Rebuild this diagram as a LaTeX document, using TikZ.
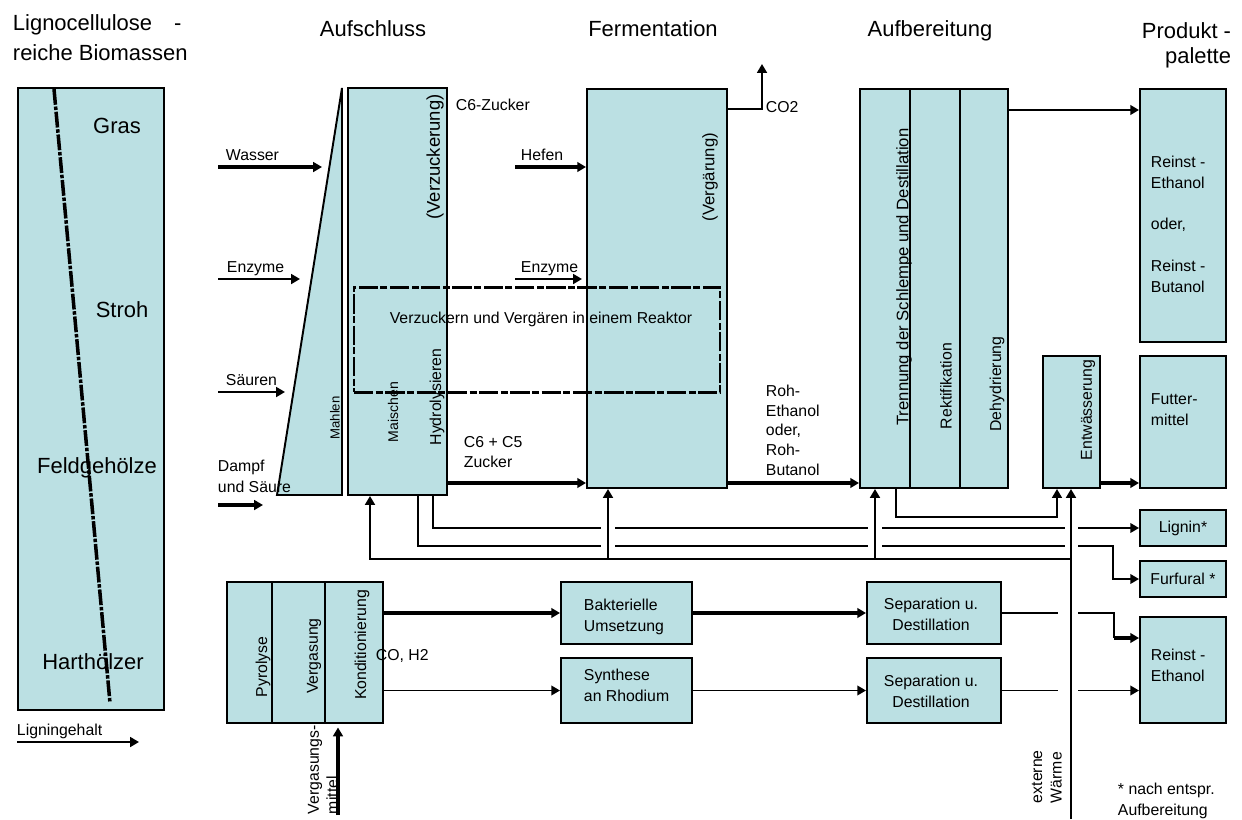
\documentclass[tikz,border=0pt]{standalone}
\usepackage{fontspec}
\setmainfont{Liberation Sans}
\usetikzlibrary{arrows.meta,positioning,fit,calc}
\definecolor{cyanbox}{RGB}{187,224,227}
\tikzset{blk/.style={draw, fill=cyanbox, line width=1.1pt, inner sep=0pt}}
\tikzset{hdg/.style={font=\fontsize{12.5}{17}\selectfont, inner sep=0pt}}
\tikzset{lbl/.style={inner sep=0pt}}
\tikzset{thk/.style={line width=2.2pt}, med/.style={line width=1.6pt}}

\begin{document}
\begin{tikzpicture}[>={Triangle[length=5pt,width=5.5pt]}, x=0.02cm, y=-0.02cm, line width=1.1pt, font=\fontsize{9}{11.8}\selectfont]
\useasboundingbox (0,0) rectangle (1242,819);

% headings
\node[hdg, anchor=north west, align=left] (H0) at (12,14) {Lignocellulose\quad-\\reiche Biomassen};
\node[hdg, anchor=base] (H1) at (373,36) {Aufschluss};
\node[hdg, anchor=base] (H2) at (653,36) {Fermentation};
\node[hdg, anchor=base] (H3) at (930,36) {Aufbereitung};
\node[hdg, anchor=north east, align=right, font=\fontsize{12.5}{14}\selectfont] (H4) at (1232,22) {Produkt -\\palette};

% boxes
\node[blk, fit={(18,88) (164,710)}] (Bio) {};
\draw[blk] (342,88) -- (277,495) -- (342,495) -- cycle;
\node[blk, fit={(348,88) (447,495)}] (Auf) {};
\node[blk, fit={(587,89) (727,488)}] (Fer) {};
\node[blk, fit={(860,89) (910,488)}] (Tr) {};
\node[blk, fit={(910,89) (960,488)}] (Rk) {};
\node[blk, fit={(960,89) (1008,488)}] (Dh) {};
\node[blk, fit={(1140,89) (1226,342)}] (P1) {};
\node[blk, fit={(1043,356) (1100,488)}] (Ew) {};
\node[blk, fit={(1140,356) (1226,488)}] (Fu) {};
\node[blk, fit={(1140,510) (1226,546)}] (Lg) {};
\node[blk, fit={(1140,561) (1226,597)}] (Ff) {};
\node[blk, fit={(1140,617) (1226,723)}] (P2) {};
\node[blk, fit={(227,582) (272,723)}] (Py) {};
\node[blk, fit={(272,582) (325,723)}] (Vg) {};
\node[blk, fit={(325,582) (383,723)}] (Kd) {};
\node[blk, fit={(561,582) (692,644)}] (Bk) {};
\node[blk, fit={(561,658) (692,723)}] (Sy) {};
\node[blk, fit={(867,582) (1001,644)}] (Sp1) {};
\node[blk, fit={(867,658) (1001,723)}] (Sp2) {};

\draw[line width=2pt, dash pattern=on 9pt off 1pt on 2pt off 1pt] (54,89) -- (110,703);
\node[draw, line width=1.7pt, dash pattern=on 11pt off 1.4pt on 4pt off 1.4pt, inner sep=0pt, fit={(354,287) (720,392)}] (Rea) {};

% biomass
\node[hdg, anchor=base] at (117,133) {Gras};
\node[hdg, anchor=base] at (122,317) {Stroh};
\node[hdg, anchor=base] at (97,473) {Feldgehölze};
\node[hdg, anchor=base] at (93,669) {Harthölzer};
\node[lbl, anchor=base west] at (16,735) {Ligningehalt};
\coordinate (lg0) at (17,742);
\draw[med,->] (lg0) -- ++(122,0);

% vertical labels
\node[lbl, rotate=90, font=\fontsize{7.5}{9}\selectfont] at (335,418) {Mahlen};
\node[lbl, rotate=90, font=\fontsize{8}{10}\selectfont] at (393,412) {Maischen};
\node[lbl, rotate=90] at (437,397) {Hydrolysieren};
\node[lbl, rotate=90, font=\fontsize{10.5}{13}\selectfont] at (435,157) {(Verzuckerung)};
\node[lbl, rotate=90, font=\fontsize{9.5}{11}\selectfont] at (710,177) {(Vergärung)};
\node[lbl, rotate=90, font=\fontsize{9.5}{11}\selectfont] at (904,277) {Trennung der Schlempe und Destillation};
\node[lbl, rotate=90] at (946,386) {Rektifikation};
\node[lbl, rotate=90] at (997,384) {Dehydrierung};
\node[lbl, rotate=90] at (1088,410) {Entwässerung};
\node[lbl, rotate=90] at (263,667) {Pyrolyse};
\node[lbl, rotate=90] at (314,656) {Vergasung};
\node[lbl, rotate=90] at (362,645) {Konditionierung};
\node[lbl, rotate=90, anchor=north west, align=left, font=\fontsize{9}{10.8}\selectfont] at (307,815) {Vergasungs-\\mittel};
\node[lbl, rotate=90, anchor=north west, align=left, font=\fontsize{9}{11}\selectfont] at (1031,804) {externe\\Wärme};

% labels
\node[lbl, anchor=base west] at (225,160) {Wasser};
\node[lbl, anchor=base west] at (226,272) {Enzyme};
\node[lbl, anchor=base west] at (225,385) {Säuren};
\node[lbl, anchor=north west, align=left] at (217,459) {Dampf\\und Säure};
\node[lbl, anchor=base west] at (520,160) {Hefen};
\node[lbl, anchor=base west] at (520,272) {Enzyme};
\node[lbl, anchor=base west] at (455,110) {C6-Zucker};
\node[lbl, anchor=base west] at (765,112) {CO2};
\node[lbl, anchor=north west, align=left] at (463,435) {C6 + C5\\Zucker};
\node[lbl, anchor=north west, align=left, font=\fontsize{9}{11.2}\selectfont] at (765,384) {Roh-\\Ethanol\\oder,\\Roh-\\Butanol};
\node[lbl, anchor=base] at (541,323) {Verzuckern und Vergären in einem Reaktor};
\node[lbl, anchor=north west, align=left] at (1150,155) {Reinst -\\Ethanol\\[11.9pt]oder,\\[11.9pt]Reinst -\\Butanol};
\node[lbl, anchor=north west, align=left] at (1150,393) {Futter-\\mittel};
\node[lbl] at (Lg) {Lignin*};
\node[lbl] at (Ff) {Furfural *};
\node[lbl, anchor=north west, align=left] at (1150,648) {Reinst -\\Ethanol};
\node[lbl, anchor=north west, align=left] at (583,598) {Bakterielle\\Umsetzung};
\node[lbl, anchor=north west, align=left] at (583,668) {Synthese\\an Rhodium};
\node[lbl, anchor=north, align=center] at (931,597) {Separation u.\\Destillation};
\node[lbl, anchor=north, align=center] at (931,674) {Separation u.\\Destillation};
\node[lbl, anchor=base west] at (375,660) {CO, H2};
\node[lbl, anchor=north west, align=left] at (1117,782) {* nach entspr.\\Aufbereitung};

% inputs
\coordinate (iW) at (218,167);
\coordinate (iE) at (218,279);
\coordinate (iS) at (218,392);
\coordinate (iD) at (218,505);
\coordinate (iH) at (515,167);
\coordinate (iE2) at (515,279);
\draw[thk,->] (iW) -- ++(104,0);
\draw[med,->] (iE) -- ++(82,0);
\draw[med,->] (iS) -- ++(67,0);
\draw[thk,->] (iD) -- ++(45,0);
\draw[thk,->] (iH) -- (Fer.west |- iH);
\draw[med,->] (iE2) -- ++(67,0);

% main line
\draw[thk,->] (Auf.east |- 0,483) -- (Fer.west |- 0,483);
\draw[thk,->] (Fer.east |- 0,483) -- (Tr.west |- 0,483);
\coordinate (co2) at (762,64);
\draw[med,->] (Fer.east |- 0,109) -| (co2);
\draw[med,->] (Dh.east |- 0,110) -- (P1.west |- 0,110);
\draw[thk,->] (Ew.east |- 0,483) -- (Fu.west |- 0,483);

% side streams
\draw[->] (Auf.south -| 433,0) |- (Lg.west);
\draw[->] (Auf.south -| 418,0) |- (1113,546) |- (Ff.west);
\draw[->] (Tr.south -| 896,0) |- (1057,517) -- (Ew.south -| 1057,0);

% lower line
\draw[thk,->] (Kd.east |- Bk.west) -- (Bk.west);
\draw[->] (Kd.east |- Sy.west) -- (Sy.west);
\draw[thk,->] (Bk) -- (Sp1);
\draw[->] (Sy) -- (Sp2);
\coordinate (j1) at (1114,638);
\draw (Sp1.east) -| (j1);
\draw[thk,->] (j1) -- (P2.west |- j1);
\draw[->] (Sp2.east) -- (P2.west |- Sp2.east);
\coordinate (vm) at (338,815);
\draw[thk,->, shorten >=2pt] (vm) -- (Kd.south -| vm);

% crossings
\fill[white] (601,522) rectangle (615,552);
\fill[white] (868,522) rectangle (882,552);
\fill[white] (1065,522) rectangle (1078,552);
\fill[white] (1058,605) rectangle (1078,700);

% external heat
\coordinate (hw) at (1071,819);
\draw[med,->] (hw) -- (Ew.south -| hw);
\draw[med,->] (hw |- 0,559) -| (Auf.south -| 370,0);
\draw[med,->] (hw |- 0,559) -| (Fer.south -| 608,0);
\draw[med,->] (hw |- 0,559) -| (Tr.south -| 875,0);
\end{tikzpicture}
\end{document}
